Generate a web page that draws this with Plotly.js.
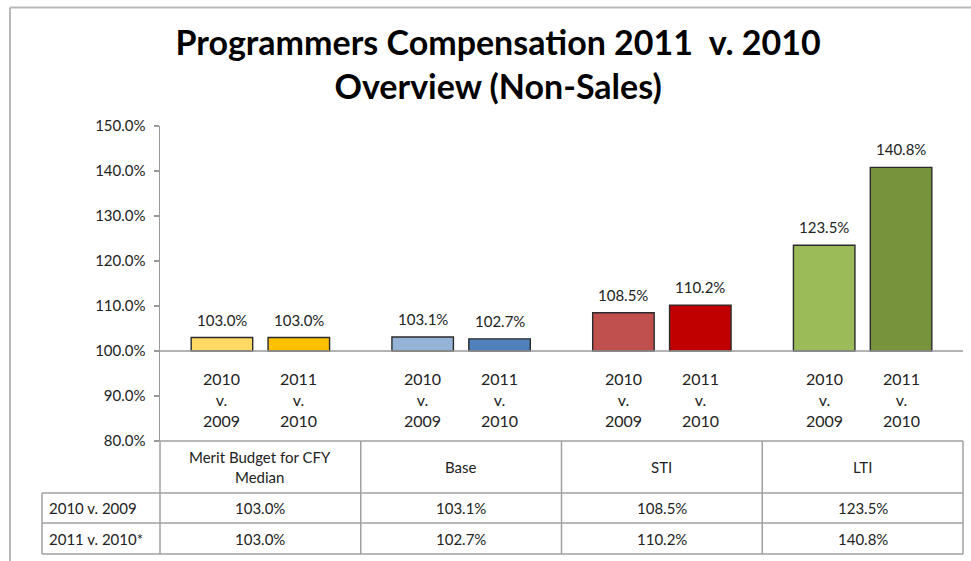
<!DOCTYPE html>
<html>
<head>
<meta charset="utf-8">
<script src="https://cdn.plot.ly/plotly-3.0.1.min.js"></script>
<style>html,body{margin:0;padding:0;background:#fff;}#chart{width:971px;height:561px;}</style>
</head>
<body>
<div id="chart"></div>
<script>
// ---- data ----
const categories = ["Merit Budget for CFY<br>Median", "Base", "STI", "LTI"];
const seriesNames = ["2010 v. 2009", "2011 v. 2010*"];
const periodLabels = ["2010<br>v.<br>2009", "2011<br>v.<br>2010"];
const values2010v2009 = [103.0, 103.1, 108.5, 123.5];
const values2011v2010 = [103.0, 102.7, 110.2, 140.8];
const colors2010v2009 = ["#FFD966", "#95B3D7", "#C0504D", "#9BBB59"];
const colors2011v2010 = ["#FFC000", "#4F81BD", "#C00000", "#77933C"];
const yTickVals = [80, 90, 100, 110, 120, 130, 140, 150];
const yTickText = yTickVals.map(v => v.toFixed(1) + "%");

// ---- layout constants ----
const W = 971, H = 561;
const M = {l: 160, r: 8, t: 126, b: 120};
const PW = W - M.l - M.r, PH = H - M.t - M.b;
const BASE = 100;
const BARGAP = 0.234, BARGROUPGAP = 0.2;
const FONT = "Lato, 'Open Sans', sans-serif";
const px2x = p => (p - M.l) / PW;
const py2y = p => (H - M.b - p) / PH;

const seriesValues = [values2010v2009, values2011v2010];
const seriesColors = [colors2010v2009, colors2011v2010];
const catKeys = categories.map((c, i) => "c" + i);

const traces = seriesValues.map((vals, s) => ({
  type: "bar",
  name: seriesNames[s],
  x: catKeys,
  y: vals.map(v => v - BASE),
  base: BASE,
  customdata: vals,
  hovertemplate: "%{customdata:.1f}%<extra>" + seriesNames[s] + "</extra>",
  marker: {color: seriesColors[s], line: {color: "#2b2b2b", width: 1.4}},
  showlegend: false
}));

// bar-centre offset (px) within a category
const catW = PW / categories.length;
const slot = catW * (1 - BARGAP) / 2;
const offsets = [-slot / 2, slot / 2];

const annotations = [];
// value labels and period labels
seriesValues.forEach((vals, s) => {
  vals.forEach((v, j) => {
    annotations.push({x: catKeys[j], y: v, xref: "x", yref: "y", xshift: offsets[s], yshift: 7,
      xanchor: "center", yanchor: "bottom", showarrow: false, text: v.toFixed(1) + "%",
      font: {family: FONT, size: 15, color: "#222"}});
    annotations.push({x: catKeys[j], y: BASE, xref: "x", yref: "y", xshift: offsets[s], yshift: -16,
      xanchor: "center", yanchor: "top", showarrow: false, text: periodLabels[s],
      font: {family: FONT, size: 16, color: "#222"}});
  });
});

// table
const colEdges = categories.map((c, i) => M.l + i * catW).concat([M.l + PW]);
const rowLabelLeft = 42;
const headerTop = H - M.b, headerBottom = 493, row1Bottom = 523, row2Bottom = 554;
const shapes = [];
const lineStyle = {color: "#a0a0a0", width: 1.5};
const hline = (x0, x1, y) => shapes.push({type: "line", xref: "paper", yref: "paper",
  x0: px2x(x0), x1: px2x(x1), y0: py2y(y), y1: py2y(y), line: lineStyle});
const vline = (x, y0, y1) => shapes.push({type: "line", xref: "paper", yref: "paper",
  x0: px2x(x), x1: px2x(x), y0: py2y(y0), y1: py2y(y1), line: lineStyle});
hline(colEdges[0], colEdges[colEdges.length - 1], headerTop);
[headerBottom, row1Bottom, row2Bottom].forEach(y => hline(rowLabelLeft, colEdges[colEdges.length - 1], y));
colEdges.forEach(x => vline(x, headerTop, row2Bottom));
vline(rowLabelLeft, headerBottom, row2Bottom);

// 100% baseline
shapes.push({type: "line", xref: "paper", yref: "y", x0: 0, x1: 1, y0: BASE, y1: BASE,
  line: {color: "#9a9a9a", width: 1.5}});
// frame
shapes.push({type: "line", xref: "paper", yref: "paper", x0: px2x(10), x1: px2x(971), y0: py2y(7.5), y1: py2y(7.5),
  line: {color: "#b8b8b8", width: 2}});
shapes.push({type: "line", xref: "paper", yref: "paper", x0: px2x(10), x1: px2x(10), y0: py2y(7.5), y1: py2y(561),
  line: {color: "#b8b8b8", width: 2}});

const tFont = {family: FONT, size: 15, color: "#222"};
categories.forEach((c, j) => {
  const cx = px2x((colEdges[j] + colEdges[j + 1]) / 2);
  annotations.push({xref: "paper", yref: "paper", x: cx, y: py2y((headerTop + headerBottom) / 2),
    xanchor: "center", yanchor: "middle", align: "center",
    text: c, showarrow: false, font: tFont});
  seriesValues.forEach((vals, s) => {
    const yc = s === 0 ? (headerBottom + row1Bottom) / 2 : (row1Bottom + row2Bottom) / 2;
    annotations.push({xref: "paper", yref: "paper", x: cx, y: py2y(yc),
      xanchor: "center", yanchor: "middle",
      text: vals[j].toFixed(1) + "%", showarrow: false, font: tFont});
  });
});
seriesNames.forEach((n, s) => {
  const yc = s === 0 ? (headerBottom + row1Bottom) / 2 : (row1Bottom + row2Bottom) / 2;
  annotations.push({xref: "paper", yref: "paper", x: px2x(rowLabelLeft + 5), xanchor: "left", y: py2y(yc),
    yanchor: "middle", text: n, showarrow: false, font: tFont});
});

const layout = {
  width: W, height: H,
  margin: M,
  paper_bgcolor: "#fff", plot_bgcolor: "#fff",
  barmode: "group", bargap: BARGAP, bargroupgap: BARGROUPGAP,
  title: {text: "<b>Programmers Compensation 2011  v. 2010<br>Overview (Non-Sales)</b>",
    x: 0.513, xanchor: "center", y: 0.902, yanchor: "middle",
    font: {family: FONT, size: 34, color: "#000"}},
  xaxis: {type: "category", range: [-0.5, categories.length - 0.5], showticklabels: false,
    showline: false, showgrid: false, zeroline: false, ticks: "", fixedrange: true},
  yaxis: {range: [80, 150], tickvals: yTickVals, ticktext: yTickText,
    showline: true, linecolor: "#9a9a9a", linewidth: 1.5, ticks: "outside", ticklen: 5,
    tickcolor: "#9a9a9a", tickwidth: 1.5, showgrid: false, zeroline: false,
    ticklabelstandoff: 5, tickfont: {family: FONT, size: 15, color: "#222"}},
  shapes: shapes,
  annotations: annotations,
  showlegend: false
};

Plotly.newPlot("chart", traces, layout, {displayModeBar: false, staticPlot: true});
</script>
</body>
</html>
